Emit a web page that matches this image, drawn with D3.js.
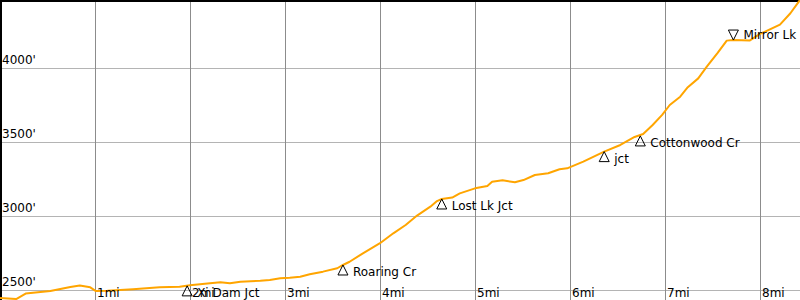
<!DOCTYPE html>
<html>
<head>
<meta charset="utf-8">
<script src="https://cdn.jsdelivr.net/npm/d3@7"></script>
<style>
  body { margin: 0; background: #fff; }
  svg text { font-family: "DejaVu Sans", sans-serif; font-size: 12px; fill: #000; }
</style>
</head>
<body>
<div id="chart"></div>
<script>
// Elevation profile: distance (mi) and elevation (ft)
var miles = [0.00, 0.17, 0.27, 0.53, 0.74, 0.84, 0.95, 1.01, 1.13, 1.40, 1.68, 1.89, 2.00, 2.21, 2.32, 2.42,
  2.53, 2.74, 2.84, 2.95, 3.05, 3.16, 3.26, 3.40, 3.55, 3.61, 3.68, 3.82, 4.00, 4.14, 4.27, 4.39, 4.53,
  4.60, 4.65, 4.76, 4.84, 5.00, 5.13, 5.18, 5.29, 5.42, 5.51, 5.63, 5.77, 5.89, 5.97, 6.14, 6.36, 6.53,
  6.68, 6.77, 6.87, 6.97, 7.05, 7.16, 7.24, 7.35, 7.44, 7.55, 7.65, 7.72, 7.89, 8.00, 8.21, 8.32, 8.42];
var elevation = [2448, 2441, 2478, 2495, 2522, 2532, 2520, 2495, 2497, 2507, 2520, 2524, 2534, 2547, 2554, 2547,
  2558, 2565, 2570, 2581, 2585, 2592, 2608, 2626, 2649, 2671, 2693, 2750, 2818, 2885, 2941, 3005, 3065,
  3103, 3117, 3127, 3155, 3189, 3205, 3234, 3243, 3230, 3245, 3279, 3291, 3318, 3324, 3369, 3437, 3482,
  3536, 3556, 3617, 3685, 3752, 3808, 3872, 3932, 4011, 4101, 4187, 4191, 4187, 4232, 4295, 4372, 4461];

// Waypoints along the trail (dir: 1 = up triangle, -1 = down triangle)
var wpNames = ["Xi Dam Jct", "Roaring Cr", "Lost Lk Jct", "jct", "Cottonwood Cr", "Mirror Lk"];
var wpMiles = [1.97, 3.61, 4.65, 6.36, 6.74, 7.72];
var wpElev = [2530, 2671, 3117, 3437, 3543, 4191];
var wpDir = [1, 1, 1, 1, 1, -1];

// Tick values
var xTicks = [1, 2, 3, 4, 5, 6, 7, 8];
var yTicks = [2500, 3000, 3500, 4000];

var width = 800, height = 300;

var xScale = d3.scaleLinear().domain([0, 1]).range([0, 95]);
var yScale = d3.scaleLinear().domain([2500, 4000]).range([290.3, 68.3]);

var svg = d3.select("#chart")
  .append("svg")
  .attr("width", width)
  .attr("height", height);

// horizontal grid
svg.selectAll(".hgrid")
  .data(yTicks)
  .enter()
  .append("line")
  .attr("x1", 0)
  .attr("x2", width)
  .attr("y1", function(d) { return Math.round(yScale(d)) + 0.5; })
  .attr("y2", function(d) { return Math.round(yScale(d)) + 0.5; })
  .attr("stroke", "#b4b4b4")
  .attr("stroke-width", 1);

// vertical grid
svg.selectAll(".vgrid")
  .data(xTicks)
  .enter()
  .append("line")
  .attr("x1", function(d) { return Math.round(xScale(d)) + 0.5; })
  .attr("x2", function(d) { return Math.round(xScale(d)) + 0.5; })
  .attr("y1", 0)
  .attr("y2", height)
  .attr("stroke", "#8c8c8c")
  .attr("stroke-width", 1);

// frame on left and top
svg.append("line").attr("x1", 1).attr("x2", 1).attr("y1", 0).attr("y2", height)
  .attr("stroke", "#000").attr("stroke-width", 2);
svg.append("line").attr("x1", 0).attr("x2", width).attr("y1", 1).attr("y2", 1)
  .attr("stroke", "#000").attr("stroke-width", 2);

// profile line
var points = miles.map(function(m, i) { return { mi: m, ft: elevation[i] }; });
var lineGenerator = d3.line()
  .x(function(d) { return xScale(d.mi); })
  .y(function(d) { return yScale(d.ft); });

svg.append("path")
  .datum(points)
  .attr("d", lineGenerator)
  .attr("fill", "none")
  .attr("stroke", "#ffa500")
  .attr("stroke-width", 2)
  .attr("stroke-linejoin", "round");

// y labels
svg.selectAll(".ylabel")
  .data(yTicks)
  .enter()
  .append("text")
  .attr("x", 2)
  .attr("y", function(d) { return yScale(d) - 4; })
  .text(function(d) { return d + "'"; });

// x labels
svg.selectAll(".xlabel")
  .data(xTicks)
  .enter()
  .append("text")
  .attr("x", function(d) { return xScale(d) + 2; })
  .attr("y", 297)
  .text(function(d) { return d + "mi"; });

// waypoints: triangle with apex on the profile, name to the right
var waypoints = wpNames.map(function(n, i) {
  return { name: n, mi: wpMiles[i], ft: wpElev[i], dir: wpDir[i] };
});
var wp = svg.selectAll(".wp")
  .data(waypoints)
  .enter()
  .append("g")
  .attr("transform", function(d) {
    return "translate(" + xScale(d.mi) + "," + yScale(d.ft) + ")";
  });

wp.append("path")
  .attr("d", function(d) {
    var h = 10 * d.dir;
    return "M0,0L5,"+ h + "L-5," + h + "Z";
  })
  .attr("fill", "none")
  .attr("stroke", "#000")
  .attr("stroke-width", 1);

wp.append("text")
  .attr("x", 10)
  .attr("y", function(d) { return d.dir > 0 ? 11 : -1; })
  .text(function(d) { return d.name; });
</script>
</body>
</html>
